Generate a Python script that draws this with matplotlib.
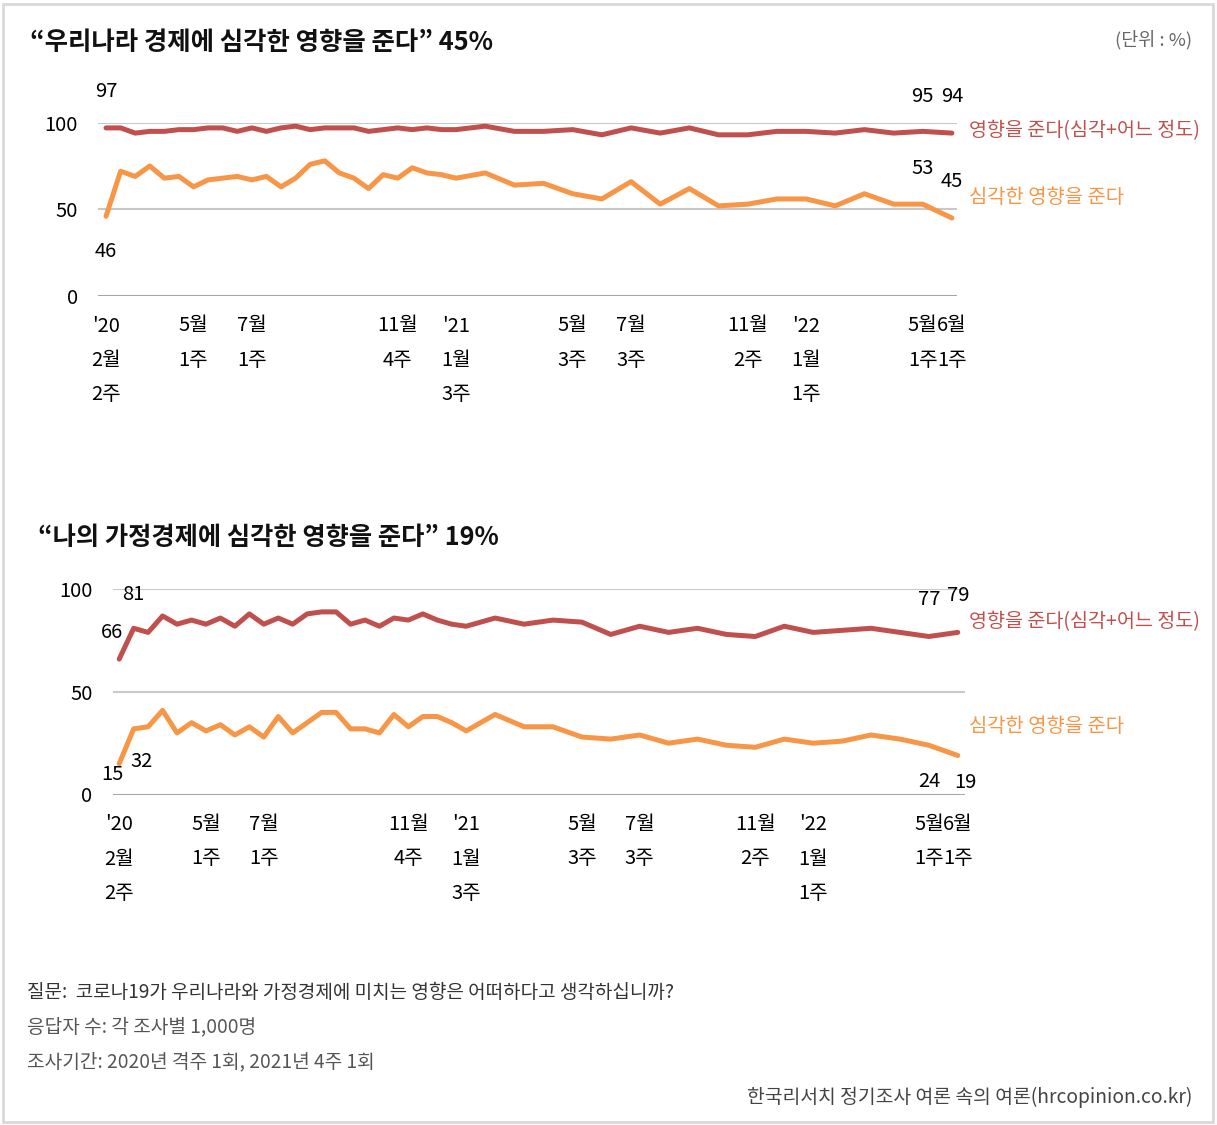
import matplotlib
matplotlib.use('Agg')
import matplotlib.pyplot as plt
from matplotlib.patches import Rectangle

plt.rcParams['font.family'] = ['Noto Sans CJK KR', 'DejaVu Sans']

# survey weeks since 2020 Feb wk2 (biweekly in 2020, every 4 weeks after)
weeks = list(range(0, 49, 2)) + list(range(52, 117, 4))

# "우리나라 경제" chart
nat_any = [97, 97, 94, 95, 95, 96, 96, 97, 97, 95, 97, 95, 97, 98, 96, 97, 97, 97, 95, 96,
           97, 96, 97, 96, 96,
           98, 95, 95, 96, 93, 97, 94, 97, 93, 93, 95, 95, 94, 96, 94, 95, 94]
nat_serious = [46, 72, 69, 75, 68, 69, 63, 67, 68, 69, 67, 69, 63, 68, 76, 78, 71, 68, 62, 70,
               68, 74, 71, 70, 68,
               71, 64, 65, 59, 56, 66, 53, 62, 52, 53, 56, 56, 52, 59, 53, 53, 45]

# "나의 가정경제" chart
home_any = [66, 81, 79, 87, 83, 85, 83, 86, 82, 88, 83, 86, 83, 88, 89, 89, 83, 85, 82, 86,
            85, 88, 85, 83, 82,
            86, 83, 85, 84, 78, 82, 79, 81, 78, 77, 82, 79, 80, 81, 79, 77, 79]
home_serious = [15, 32, 33, 41, 30, 35, 31, 34, 29, 33, 28, 38, 30, 35, 40, 40, 32, 32, 30, 39,
                33, 38, 38, 35, 31,
                39, 33, 33, 28, 27, 29, 25, 27, 24, 23, 27, 25, 26, 29, 27, 24, 19]

tick_weeks = [0, 12, 20, 40, 48, 64, 72, 88, 96, 112, 116]
tick_labels = ["'20\n2월\n2주", "5월\n1주", "7월\n1주", "11월\n4주", "'21\n1월\n3주",
               "5월\n3주", "7월\n3주", "11월\n2주", "'22\n1월\n1주", "5월\n1주", "6월\n1주"]

RED = '#c0504d'
ORANGE = '#f79646'
W, H = 1217, 1125
PT = 0.72  # points per pixel at dpi 100

fig = plt.figure(figsize=(W / 100, H / 100), dpi=100)
fig.patch.set_facecolor('white')
fig.patches.append(Rectangle((3 / W, 3 / H), (W - 7) / W, (H - 7) / H, transform=fig.transFigure,
                             fill=False, edgecolor='#d9d9d9', lw=2))


def make_axes(l, t, r, b, xlim):
    ax = fig.add_axes([l / W, 1 - b / H, (r - l) / W, (b - t) / H])
    ax.set_xlim(*xlim)
    ax.set_ylim(0, 100)
    for s in ax.spines.values():
        s.set_visible(False)
    ax.axhline(100, color='#c8c8c8', lw=1.5, zorder=1)
    ax.axhline(50, color='#c8c8c8', lw=1.5, zorder=1)
    ax.axhline(0, color='#a6a6a6', lw=1.5, zorder=1)
    ax.set_yticks([0, 50, 100])
    ax.set_yticklabels(['0', '50', '100'], fontsize=14.5)
    ax.tick_params(axis='y', length=0, pad=14.5)
    ax.set_xticks([])
    for w, lab in zip(tick_weeks, tick_labels):
        for i, line in enumerate(lab.split('\n')):
            ax.annotate(line, (w, 0), xycoords=('data', 'axes fraction'),
                        xytext=(0, -(30 + 34.5 * i) * PT), textcoords='offset points',
                        ha='center', va='center', fontsize=14.5)
    return ax


def line(ax, y, color):
    ax.plot(weeks, y, color=color, lw=3.6, solid_capstyle='round', solid_joinstyle='round',
            zorder=3, clip_on=False)


def label(ax, i, y, dx, dy):
    ax.annotate(str(y[i]), (weeks[i], y[i]), xytext=(dx * PT, dy * PT),
                textcoords='offset points', ha='center', va='center', fontsize=14.5,
                annotation_clip=False)


# top chart
ax1 = make_axes(98, 122.7, 957, 296, (-1.1, 116.7))
line(ax1, nat_any, RED)
line(ax1, nat_serious, ORANGE)
label(ax1, 0, nat_any, 0, 36)
label(ax1, 0, nat_serious, 0, -35)
label(ax1, -2, nat_any, 0, 35)
label(ax1, -1, nat_any, 0, 37)
label(ax1, -2, nat_serious, 0, 36)
label(ax1, -1, nat_serious, 0, 37)

# bottom chart
ax2 = make_axes(112.7, 589.3, 965, 794.5, (-0.9, 117))
line(ax2, home_any, RED)
line(ax2, home_serious, ORANGE)
label(ax2, 0, home_any, -7, 27)
label(ax2, 1, home_any, 0, 34)
label(ax2, 0, home_serious, -7, -11)
label(ax2, 1, home_serious, 8, -33)
label(ax2, -2, home_any, 0, 37)
label(ax2, -1, home_any, 0, 37)
label(ax2, -2, home_serious, 0, -36)
label(ax2, -1, home_serious, 8, -27)


def ftext(x, y, s, **kw):
    fig.text(x / W, 1 - y / H, s, va='center', **kw)


# titles and series names
ftext(30, 42, '“우리나라 경제에 심각한 영향을 준다” 45%', fontsize=18.3, fontweight='bold', color='#111111')
ftext(38, 537, '“나의 가정경제에 심각한 영향을 준다” 19%', fontsize=18.2, fontweight='bold', color='#111111')
ftext(1192, 40, '(단위 : %)', fontsize=13.3, color='#666666', ha='right')
ftext(969, 131, '영향을 준다(심각+어느 정도)', fontsize=14.1, color=RED)
ftext(969, 198, '심각한 영향을 준다', fontsize=14.3, color=ORANGE)
ftext(969, 622, '영향을 준다(심각+어느 정도)', fontsize=14.1, color=RED)
ftext(969, 727, '심각한 영향을 준다', fontsize=14.3, color=ORANGE)

# footer
ftext(27, 992, '질문:  코로나19가 우리나라와 가정경제에 미치는 영향은 어떠하다고 생각하십니까?',
      fontsize=13.7, color='#333333')
ftext(27, 1027, '응답자 수: 각 조사별 1,000명', fontsize=13.8, color='#555555')
ftext(27, 1062, '조사기간: 2020년 격주 1회, 2021년 4주 1회', fontsize=13.8, color='#555555')
ftext(1192, 1097, '한국리서치 정기조사 여론 속의 여론(hrcopinion.co.kr)', fontsize=13.9,
      color='#444444', ha='right')

fig.savefig('out.png', dpi=100)
